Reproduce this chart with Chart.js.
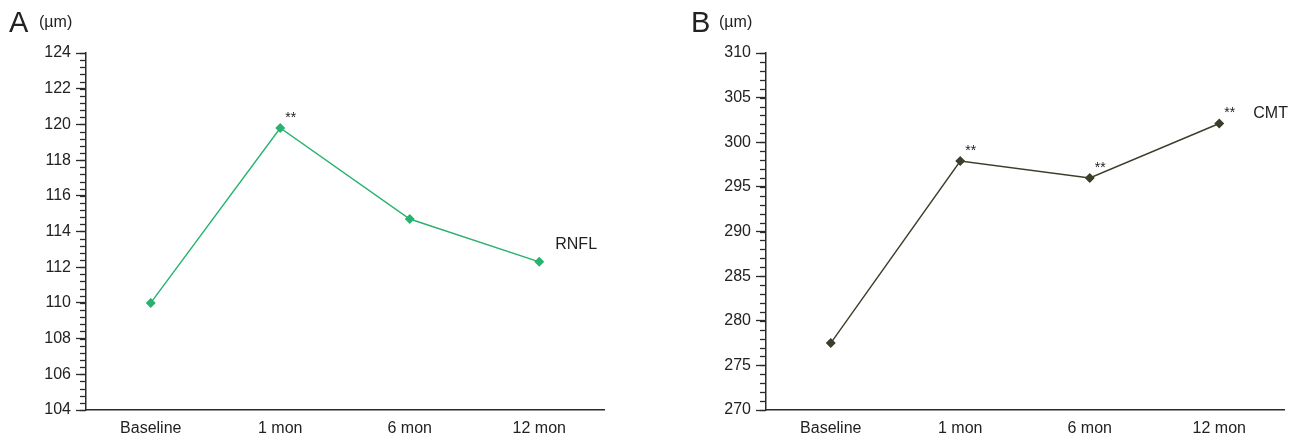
<!DOCTYPE html>
<html>
<head>
<meta charset="utf-8">
<script src="https://cdn.jsdelivr.net/npm/chart.js@4.4.0/dist/chart.umd.min.js"></script>
<style>
  body { margin: 0; background: #fff; font-family: "Liberation Sans", Arial, sans-serif; }
  .panel { position: absolute; top: 0; height: 440px; }
  .letter { position: absolute; font-size: 29px; color: #222; line-height: 1; }
  .unit { position: absolute; font-size: 16px; color: #222; line-height: 1; }
</style>
</head>
<body>
<div class="panel" style="left:0;width:649px"><canvas id="chartA"></canvas></div>
<div class="panel" style="left:680px;width:618px"><canvas id="chartB"></canvas></div>
<div class="letter" style="left:9px;top:8px">A</div>
<div class="unit" style="left:39px;top:14px">(µm)</div>
<div class="letter" style="left:691px;top:8px">B</div>
<div class="unit" style="left:719px;top:14px">(µm)</div>
<script>
const categories = ['Baseline', '1 mon', '6 mon', '12 mon']

const rnflValues = [110.0, 119.8, 114.7, 112.3]
const rnflStars = ['', '**', '', '']
const rnflTicks = { min: 104, max: 124, step: 2, minor: 0.4 }

const cmtValues = [277.5, 297.9, 296.0, 302.1]
const cmtStars = ['', '**', '**', '**']
const cmtTicks = { min: 270, max: 310, step: 5, minor: 1 }

const FONT = '"Liberation Sans", Arial, sans-serif'
const AXIS = '#2a2a2a'

// minor ticks on the y axis + the ** marks and the series name
const extras = {
  id: 'extras',
  afterDraw(chart, args, opts) {
    const ctx = chart.ctx
    const y = chart.scales.y
    const area = chart.chartArea
    ctx.save()
    ctx.strokeStyle = AXIS
    ctx.lineWidth = 1.3
    for (let v = opts.min; v <= opts.max + 1e-9; v += opts.minor) {
      const py = Math.round(y.getPixelForValue(v)) + 0.5
      ctx.beginPath()
      ctx.moveTo(area.left - 6, py)
      ctx.lineTo(area.left, py)
      ctx.stroke()
    }
    const meta = chart.getDatasetMeta(0)
    ctx.fillStyle = '#222'
    ctx.font = '14px ' + FONT
    ctx.textBaseline = 'middle'
    ctx.textAlign = 'left'
    opts.stars.forEach((s, i) => {
      if (!s) return
      const p = meta.data[i]
      ctx.fillText(s, p.x + 5, p.y - 10)
    })
    const last = meta.data[meta.data.length - 1]
    ctx.font = '16px ' + FONT
    ctx.fillText(opts.name, last.x + opts.nameDx, last.y + opts.nameDy)
    ctx.restore()
  }
}

const makeChart = (id, values, stars, name, color, t, padRight, nameDx, nameDy) => {
  const data = {
    labels: categories,
    datasets: [{
      label: name,
      data: values,
      borderColor: color,
      backgroundColor: color,
      borderWidth: 1.4,
      pointStyle: 'rectRot',
      pointRadius: 4,
      pointHoverRadius: 4,
      tension: 0
    }]
  }
  const config = {
    type: 'line',
    data: data,
    options: {
      responsive: true,
      maintainAspectRatio: false,
      animation: false,
      layout: { padding: { top: 53, right: padRight, left: 0, bottom: 0 } },
      plugins: {
        legend: { display: false },
        tooltip: { enabled: false },
        extras: { stars: stars, name: name, min: t.min, max: t.max, minor: t.minor, nameDx: nameDx, nameDy: nameDy }
      },
      scales: {
        x: {
          offset: true,
          grid: { display: true, drawOnChartArea: false, drawTicks: false },
          border: { display: true, color: AXIS, width: 1.5 },
          ticks: { color: '#222', font: { family: FONT, size: 16 }, padding: 9, maxRotation: 0 },
          afterFit: (s) => { s.height = 30 }
        },
        y: {
          min: t.min,
          max: t.max,
          grid: { drawOnChartArea: false, drawTicks: true, tickLength: 10, tickColor: AXIS, tickWidth: 1.3 },
          border: { display: true, color: AXIS, width: 1.5 },
          ticks: { stepSize: t.step, color: '#222', font: { family: FONT, size: 16 }, padding: 5 },
          afterFit: (s) => { s.width = 86 }
        }
      }
    },
    plugins: [extras]
  }
  return new Chart(document.getElementById(id), config)
}

makeChart('chartA', rnflValues, rnflStars, 'RNFL', '#27b36f', rnflTicks, 45, 16, -17)
makeChart('chartB', cmtValues, cmtStars, 'CMT', '#3a3e2b', cmtTicks, 14, 34, -10)
</script>
</body>
</html>
